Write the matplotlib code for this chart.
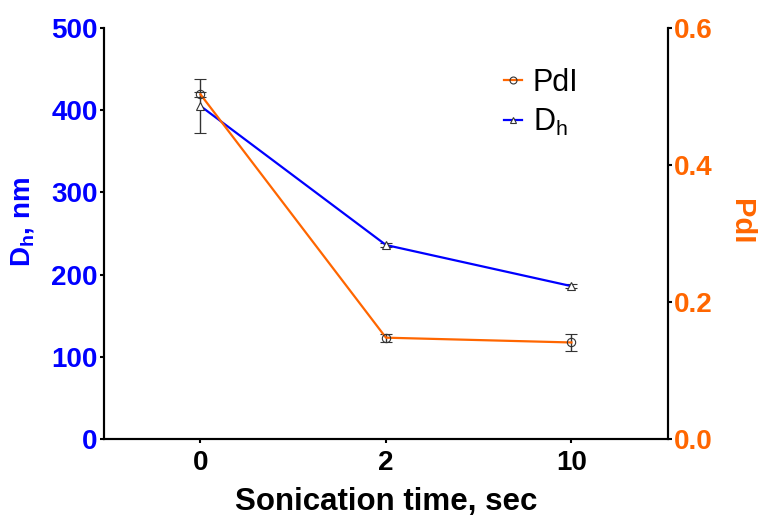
import matplotlib
matplotlib.use("Agg")
import matplotlib.pyplot as plt
from matplotlib.lines import Line2D

plt.rcParams['font.family'] = ['Liberation Sans', 'DejaVu Sans']

categories = ["0", "2", "10"]
dh_values = [405, 236, 186]
dh_err = [33, 3, 2]
pdi_values = [0.503, 0.148, 0.141]
pdi_err = [0.004, 0.006, 0.013]

blue = "#0000FF"
orange = "#FF6600"

fig = plt.figure(figsize=(7.62, 5.16), dpi=100)
ax = fig.add_axes([0.1365, 0.149, 0.74, 0.797])
ax2 = ax.twinx()

x = list(range(len(categories)))

ax.errorbar(x, dh_values, yerr=dh_err, color=blue, lw=1.6, marker='^', ms=6,
            mfc='white', mec='#333333', mew=0.8, ecolor='#333333', elinewidth=1,
            capsize=4, capthick=1, zorder=3)
ax2.errorbar(x, pdi_values, yerr=pdi_err, color=orange, lw=1.6, marker='o', ms=6,
             mfc='none', mec='#333333', mew=0.8, ecolor='#333333', elinewidth=1,
             capsize=4, capthick=1, zorder=3)

ax.set_xlim(-0.52, 2.52)
ax.set_ylim(0, 500)
ax2.set_ylim(0, 0.6)
ax.set_yticks([0, 100, 200, 300, 400, 500])
ax2.set_yticks([0.0, 0.2, 0.4, 0.6])
ax2.set_yticklabels(["0.0", "0.2", "0.4", "0.6"])
ax.set_xticks(x)
ax.set_xticklabels(categories)

for a in (ax, ax2):
    a.spines['top'].set_visible(False)
    for s in a.spines.values():
        s.set_linewidth(1.5)
        s.set_color('black')

ax.tick_params(axis='y', colors=blue, labelsize=20, width=1.5, length=3, pad=1.5)
ax.tick_params(axis='y', color='black')
ax2.tick_params(axis='y', colors=orange, labelsize=20, width=1.5, length=3, pad=1.5)
ax2.tick_params(axis='y', color='black')
ax.tick_params(axis='x', labelsize=20, width=1.5, length=3, pad=5, colors='black')
for lbl in ax.get_yticklabels() + ax2.get_yticklabels() + ax.get_xticklabels():
    lbl.set_fontweight('bold')

ax.set_ylabel(r"D$_\mathregular{h}$, nm", color=blue, fontsize=20, fontweight='bold', va='center')
ax.yaxis.set_label_coords(-0.143, 0.528)
ax2.set_ylabel("PdI", color=orange, fontsize=21, fontweight='bold', rotation=270, va='center')
ax2.yaxis.set_label_coords(1.13, 0.528)
ax.set_xlabel("Sonication time, sec", fontsize=22.5, fontweight='bold', labelpad=8)

handles = [
    Line2D([0], [0], color=orange, lw=1.6, marker='o', ms=5, mfc='none', mec='#333333', mew=0.8),
    Line2D([0], [0], color=blue, lw=1.6, marker='^', ms=5, mfc='white', mec='#333333', mew=0.8),
]
ax2.legend(handles, ["PdI", r"D$_\mathregular{h}$"], loc='upper left',
           bbox_to_anchor=(0.66, 0.97), frameon=False, fontsize=22,
           handlelength=0.6, handletextpad=0.35, labelspacing=0.3)

fig.savefig("out.png", dpi=100)
